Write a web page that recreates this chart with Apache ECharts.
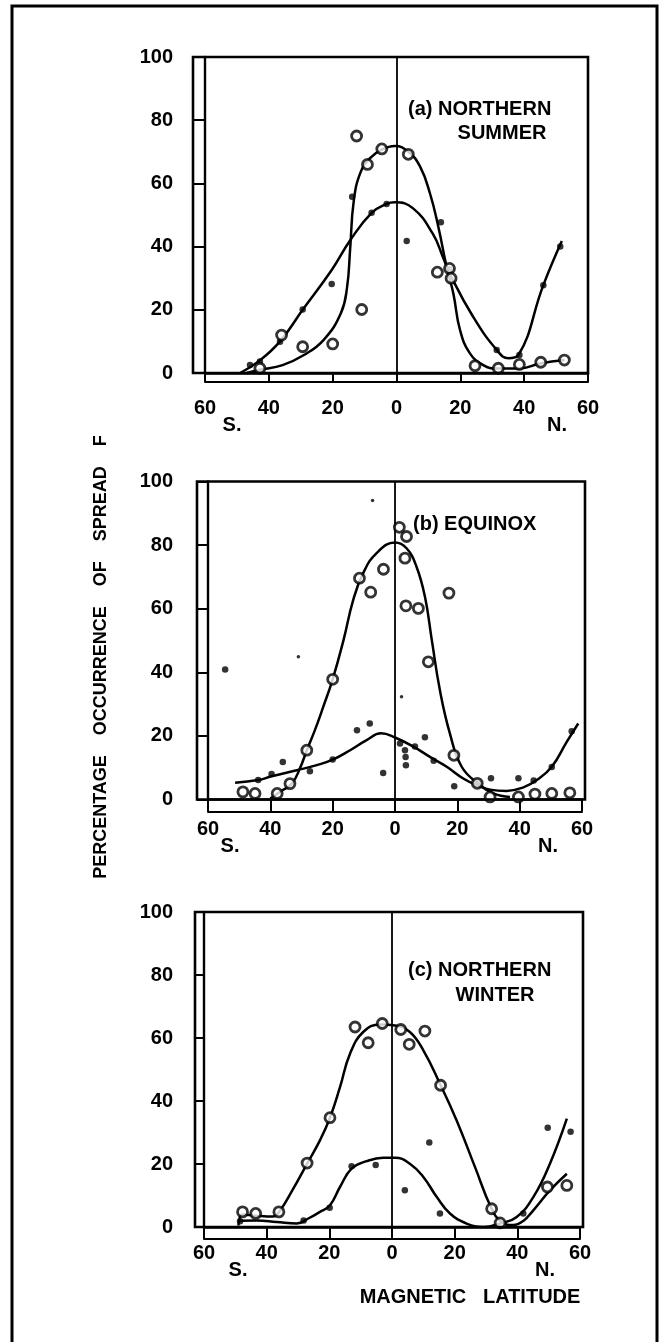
<!DOCTYPE html>
<html>
<head>
<meta charset="utf-8">
<script src="https://cdn.jsdelivr.net/npm/echarts@6/dist/echarts.min.js"></script>
<style>
  html, body { margin: 0; padding: 0; background: #fff; }
  #chart { width: 661px; height: 1342px; }
</style>
</head>
<body>
<div id="chart"></div>
<script>
// Spread-F occurrence (%) against magnetic latitude (deg, S negative, N positive)

// (a) Northern summer
const summerOpen = [[-42.8,1.5],[-36,12],[-29.4,8.3],[-20,9.2],[-10.9,20.1],[-12.5,75],[-9.1,66],[-4.6,70.9],[3.7,69.2],[12.8,31.9],[16.6,33.1],[17.1,30],[24.6,2.3],[31.9,1.5],[38.5,2.7],[45.2,3.4],[52.6,4.1]];
const summerDots = [[-45.9,2.5],[-42.8,3.6],[-36.5,9.9],[-29.4,20.1],[-20.3,28.2],[-13.9,55.8],[-7.8,50.7],[-3.1,53.5],[3.2,41.8],[13.9,47.7],[16.6,32.8],[31.4,7.3],[38.5,5.7],[46,27.8],[51.3,40]];
const summerOpenCurve = [[-47,0],[-42.8,1],[-35.7,2.5],[-29,5.7],[-22.8,10.5],[-17.4,19],[-15.5,27],[-14.5,39.6],[-13.4,54.4],[-11.3,63.4],[-8.2,68.1],[-4.6,70.7],[-0.5,71.8],[3.7,70],[7.4,65.3],[10.5,56.8],[13.1,46.3],[15.7,33.6],[17.8,25.2],[19.9,13.6],[23,6.2],[27.2,2.5],[31.4,1.4],[38.5,1.4],[45,3],[52.7,4.1]];
const summerDotCurve = [[-49,0],[-42.8,4],[-36.5,10],[-29.4,20],[-20.3,32.6],[-14.5,42],[-7.8,50.7],[-3.1,53.5],[-0.5,54],[5.2,52.1],[11.4,44],[14.5,36.8],[16.7,31.4],[24,17.8],[31.4,7.3],[35,4.7],[38.2,5.7],[46,27.8],[51.8,41.8]];

// (b) Equinox
const equinoxOpen = [[-48.8,2.4],[-44.9,1.9],[-37.8,1.9],[-33.7,5],[-28.3,15.5],[-20,37.8],[-11.4,69.6],[-7.8,65.2],[-3.7,72.4],[1.4,85.6],[3.7,82.7],[3.2,75.9],[3.5,60.9],[7.5,60.1],[10.7,43.3],[17.3,64.9],[18.9,13.9],[26.4,5.1],[30.5,0.8],[39.6,0.8],[44.9,1.7],[50.3,1.9],[56.1,2.1]];
const equinoxDots = [[-54.5,40.9],[-43.9,6.1],[-39.6,8],[-36,11.8],[-27.3,8.9],[-20,12.6],[-12.2,21.8],[-8.1,23.9],[-3.8,8.3],[1.6,17.6],[3.2,15.5],[3.4,13.4],[3.5,10.8],[6.4,16.7],[9.6,19.6],[12.4,12.2],[19,4.2],[26.5,5.2],[30.8,6.7],[39.6,6.7],[44.5,6],[50.3,10.2],[56.7,21.5]];
const equinoxSpecks = [[-31,44.9],[-7.2,94],[2.1,32.3]];
const equinoxOpenCurve = [[-40,0.3],[-36.9,2.4],[-33.1,5],[-30.5,9.8],[-28.3,15.5],[-25.7,21.8],[-23,29.2],[-20,37.8],[-16.5,50.2],[-13.4,62.8],[-10.2,71.2],[-5.9,77.5],[0,80.8],[3.7,79],[6.9,73.2],[9.6,63.8],[11.8,50.2],[14.4,34.4],[17.6,20.8],[21.4,10.3],[26.7,5],[31.5,1.9],[36.9,0.8]];
const equinoxDotCurve = [[-51.3,5.3],[-43.9,6.1],[-39.6,7.3],[-31.5,9.2],[-25.1,10.8],[-19.8,12.6],[-14.4,15.5],[-9.1,18.7],[-4.5,20.8],[0,19.5],[5.9,16.6],[11.2,13.4],[16.6,10.3],[21.9,6.6],[26.2,4.5],[30.5,3.1],[35.8,2.7],[41.2,3.8],[45.5,6.1],[50.3,10.3],[55.1,18.1],[58.8,23.9]];

// (c) Northern winter
const winterOpen = [[-47.7,4.8],[-43.5,4.3],[-36.1,4.8],[-27.1,20.3],[-19.8,34.7],[-11.8,63.5],[-7.6,58.5],[-3.1,64.6],[2.8,62.7],[5.5,58],[10.5,62.2],[15.5,45],[31.8,5.8],[34.5,1.3],[49.6,12.7],[55.8,13.2]];
const winterDots = [[-48.5,1.8],[-28.2,2.1],[-19.9,6.1],[-12.9,19.3],[-5.2,19.7],[4.1,11.7],[11.9,26.8],[15.3,4.3],[41.9,4.3],[49.7,31.5],[57,30.2]];
const winterOpenCurve = [[-49,0.5],[-47.7,4],[-43.5,3.6],[-38,3.3],[-36,4.8],[-31.5,12.2],[-27,20.3],[-23,27.5],[-19.8,34.7],[-16.6,44.4],[-13.4,55],[-9.2,61.9],[-3.8,64.3],[1,64],[5.7,61.9],[10,56.1],[15.3,45.5],[20.6,33.9],[26.5,19],[31.8,5.8],[35,1.6],[38.7,0.6],[42,2],[45.1,5.3],[50.4,11.6],[55.8,16.9]];
const winterDotCurve = [[-49,2],[-43.2,2.1],[-36.8,1.6],[-30.4,1.1],[-26.7,2.7],[-23,4.8],[-19.8,6.9],[-16.6,12.7],[-12.9,18.5],[-8.1,20.9],[-2.8,22],[1,22],[5.7,20.1],[10,15.9],[14.3,9.5],[18.5,4.3],[23.8,1.1],[29.1,0],[34.5,1.1],[39.8,3.2],[45.1,9.5],[50.4,20.1],[55.8,34.4]];

// Axis ticks and labels
const latTicks = [-60, -40, -20, 0, 20, 40, 60];
const pctTicks = [0, 20, 40, 60, 80, 100];
const panelTitles = [['(a) NORTHERN', 'SUMMER'], ['(b) EQUINOX'], ['(c) NORTHERN', 'WINTER']];
const hemisphereMarks = ['S.', 'N.'];
const xTitle = 'MAGNETIC   LATITUDE';
const yTitle = 'PERCENTAGE    OCCURRENCE    OF    SPREAD    F';

// Layout of the three stacked panels
const FONT = '"Liberation Sans", Arial, sans-serif';
const panels = [
  { left: 205, top: 57, width: 383, height: 316, frameL: 193, frameR: 588, strip: 9, yMargin: 32, xMargin: 25,
    titleX: 408, titleY: 109.5, title2X: 502, title2Y: 133.5, sx: 232, nx: 557 },
  { left: 208, top: 481.5, width: 374, height: 318, frameL: 197, frameR: 585, strip: 12, yMargin: 35, xMargin: 20,
    titleX: 413, titleY: 524, sx: 230, nx: 548 },
  { left: 204, top: 912, width: 376, height: 315, frameL: 195, frameR: 583, strip: 12, yMargin: 31, xMargin: 16,
    titleX: 408, titleY: 970, title2X: 495, title2Y: 995, sx: 238, nx: 545 }
];
const datasets = [
  { open: summerOpen, dots: summerDots, openCurve: summerOpenCurve, dotCurve: summerDotCurve, specks: [] },
  { open: equinoxOpen, dots: equinoxDots, openCurve: equinoxOpenCurve, dotCurve: equinoxDotCurve, specks: equinoxSpecks },
  { open: winterOpen, dots: winterDots, openCurve: winterOpenCurve, dotCurve: winterDotCurve, specks: [] }
];

const grid = [], xAxis = [], yAxis = [], series = [], graphic = [];
const txt = (text, x, y, size, align, extra) => Object.assign({
  type: 'text', silent: true,
  style: { text, x, y, fill: '#000', font: 'bold ' + size + 'px ' + FONT, textAlign: align, textVerticalAlign: 'middle' }
}, extra || {});

panels.forEach((p, i) => {
  grid.push({ left: p.left, top: p.top, width: p.width, height: p.height });
  const bottom = p.top + p.height;
  xAxis.push({
    type: 'value', gridIndex: i, min: latTicks[0], max: latTicks[latTicks.length - 1], interval: 20,
    position: 'bottom',
    axisLine: { show: true, onZero: false, lineStyle: { color: '#000', width: 2.6 } },
    axisTick: { show: true, inside: false, length: p.strip, lineStyle: { color: '#000', width: 2 } },
    axisLabel: { color: '#000', fontFamily: FONT, fontWeight: 'bold', fontSize: 20, margin: p.xMargin,
      formatter: v => String(Math.abs(v)) },
    splitLine: { show: false }
  });
  xAxis.push({
    type: 'value', gridIndex: i, min: latTicks[0], max: latTicks[latTicks.length - 1], interval: 20,
    position: 'bottom', offset: p.strip,
    axisLine: { show: true, onZero: false, lineStyle: { color: '#000', width: 2 } },
    axisTick: { show: false }, axisLabel: { show: false }, splitLine: { show: false }
  });
  yAxis.push({
    type: 'value', gridIndex: i, min: pctTicks[0], max: pctTicks[pctTicks.length - 1], interval: 20,
    position: 'left',
    axisLine: { show: true, onZero: false, lineStyle: { color: '#000', width: 2.4 } },
    axisTick: { show: true, inside: false, length: p.left - p.frameL, lineStyle: { color: '#000', width: 2 } },
    axisLabel: { color: '#000', fontFamily: FONT, fontWeight: 'bold', fontSize: 20, margin: p.yMargin },
    splitLine: { show: false }
  });

  const d = datasets[i];
  const curveStyle = { color: '#000', width: 2.5 };
  series.push({
    type: 'line', xAxisIndex: i * 2, yAxisIndex: i, data: d.dotCurve, smooth: 0.45,
    showSymbol: false, lineStyle: curveStyle, z: 3,
    markLine: { silent: true, symbol: ['none', 'none'], label: { show: false },
      lineStyle: { color: '#000', width: 1.8, type: 'solid' }, data: [{ xAxis: 0 }] }
  });
  series.push({
    type: 'line', xAxisIndex: i * 2, yAxisIndex: i, data: d.openCurve, smooth: 0.45,
    showSymbol: false, lineStyle: curveStyle, z: 3
  });
  series.push({
    type: 'scatter', xAxisIndex: i * 2, yAxisIndex: i, data: d.dots, symbol: 'circle', symbolSize: 6.5,
    itemStyle: { color: '#000' }, z: 4
  });
  series.push({
    type: 'scatter', xAxisIndex: i * 2, yAxisIndex: i, data: d.specks, symbol: 'circle', symbolSize: 3.5,
    itemStyle: { color: '#000' }, z: 4
  });
  series.push({
    type: 'scatter', xAxisIndex: i * 2, yAxisIndex: i, data: d.open, symbol: 'circle', symbolSize: 10,
    itemStyle: { color: '#fff', borderColor: '#000', borderWidth: 2.8 }, z: 5
  });

  // panel frame with the tick strip on the left
  graphic.push({
    type: 'rect', silent: true, z: 10,
    shape: { x: p.frameL, y: p.top, width: p.frameR - p.frameL, height: p.height },
    style: { fill: 'none', stroke: '#000', lineWidth: 2.6 }
  });
  const rowY = bottom + p.xMargin + 10;
  graphic.push(txt(hemisphereMarks[0], p.sx, rowY + 17, 20, 'center'));
  graphic.push(txt(hemisphereMarks[1], p.nx, rowY + 17, 20, 'center'));
  const t = panelTitles[i];
  graphic.push(txt(t[0], p.titleX, p.titleY, 20, 'left'));
  if (t[1]) graphic.push(txt(t[1], p.title2X, p.title2Y, 20, 'center'));
});

graphic.push(txt(xTitle, 470, 1297, 20, 'center'));
graphic.push(txt(yTitle, 0, 0, 18, 'center', { x: 101, y: 657, rotation: Math.PI / 2 }));
// page border
graphic.push({
  type: 'rect', silent: true,
  shape: { x: 12, y: 6, width: 645, height: 1400 },
  style: { fill: 'none', stroke: '#000', lineWidth: 3 }
});

const chart = echarts.init(document.getElementById('chart'), null, { renderer: 'canvas' });
chart.setOption({
  backgroundColor: '#fff',
  animation: false,
  grid, xAxis, yAxis, series, graphic
});
</script>
</body>
</html>
